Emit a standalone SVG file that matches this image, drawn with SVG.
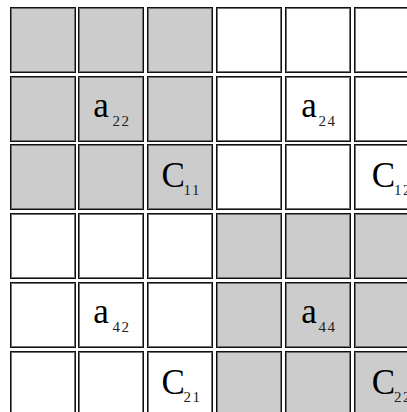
<svg xmlns="http://www.w3.org/2000/svg" width="407" height="412" viewBox="0 0 407 412">
<style>
.o{stroke:#111;stroke-width:1}
.i{fill:none;stroke:#707070;stroke-width:1}
.g{fill:#cccccc}
.w{fill:#ffffff}
.m{font-family:'Liberation Serif','Times New Roman',serif;font-size:35px;fill:#000}
.s{font-family:'Liberation Serif','Times New Roman',serif;font-size:15px;letter-spacing:1.5px;fill:#222}
</style>
<defs>
<g id="cellG"><rect class="o g" x="0.5" y="0.5" width="65" height="65"/><rect class="i" x="1.5" y="1.5" width="63" height="63"/></g>
<g id="cellW"><rect class="o w" x="0.5" y="0.5" width="65" height="65"/><rect class="i" x="1.5" y="1.5" width="63" height="63"/></g>
</defs>
<rect width="407" height="412" fill="#fff"/>
<!-- row 0 -->
<g id="r0c0"><use href="#cellG" x="10" y="7"/></g>
<g id="r0c1"><use href="#cellG" x="78" y="7"/></g>
<g id="r0c2"><use href="#cellG" x="147" y="7"/></g>
<g id="r0c3"><use href="#cellW" x="216" y="7"/></g>
<g id="r0c4"><use href="#cellW" x="285" y="7"/></g>
<g id="r0c5"><use href="#cellW" x="354" y="7"/></g>
<!-- row 1 -->
<g id="r1c0"><use href="#cellG" x="10" y="76"/></g>
<g id="r1c1"><use href="#cellG" x="78" y="76"/><text class="m" x="93.3" y="116.5">a</text><text class="s" x="112.6" y="125.8">22</text></g>
<g id="r1c2"><use href="#cellG" x="147" y="76"/></g>
<g id="r1c3"><use href="#cellW" x="216" y="76"/></g>
<g id="r1c4"><use href="#cellW" x="285" y="76"/><text class="m" x="301.3" y="116.5">a</text><text class="s" x="318.6" y="125.8">24</text></g>
<g id="r1c5"><use href="#cellW" x="354" y="76"/></g>
<!-- row 2 -->
<g id="r2c0"><use href="#cellG" x="10" y="144"/></g>
<g id="r2c1"><use href="#cellG" x="78" y="144"/></g>
<g id="r2c2"><use href="#cellG" x="147" y="144"/><text class="m" x="161.6" y="186.8">C</text><text class="s" x="183.5" y="195.3">11</text></g>
<g id="r2c3"><use href="#cellW" x="216" y="144"/></g>
<g id="r2c4"><use href="#cellW" x="285" y="144"/></g>
<g id="r2c5"><use href="#cellW" x="354" y="144"/><text class="m" x="371.7" y="186.8">C</text><text class="s" x="394" y="195.3">12</text></g>
<!-- row 3 -->
<g id="r3c0"><use href="#cellW" x="10" y="213"/></g>
<g id="r3c1"><use href="#cellW" x="78" y="213"/></g>
<g id="r3c2"><use href="#cellW" x="147" y="213"/></g>
<g id="r3c3"><use href="#cellG" x="216" y="213"/></g>
<g id="r3c4"><use href="#cellG" x="285" y="213"/></g>
<g id="r3c5"><use href="#cellG" x="354" y="213"/></g>
<!-- row 4 -->
<g id="r4c0"><use href="#cellW" x="10" y="282"/></g>
<g id="r4c1"><use href="#cellW" x="78" y="282"/><text class="m" x="93.3" y="322.5">a</text><text class="s" x="112.6" y="332">42</text></g>
<g id="r4c2"><use href="#cellW" x="147" y="282"/></g>
<g id="r4c3"><use href="#cellG" x="216" y="282"/></g>
<g id="r4c4"><use href="#cellG" x="285" y="282"/><text class="m" x="301.3" y="322.5">a</text><text class="s" x="318.6" y="332">44</text></g>
<g id="r4c5"><use href="#cellG" x="354" y="282"/></g>
<!-- row 5 -->
<g id="r5c0"><use href="#cellW" x="10" y="351"/></g>
<g id="r5c1"><use href="#cellW" x="78" y="351"/></g>
<g id="r5c2"><use href="#cellW" x="147" y="351"/><text class="m" x="161.6" y="393.8">C</text><text class="s" x="183.5" y="402.3">21</text></g>
<g id="r5c3"><use href="#cellG" x="216" y="351"/></g>
<g id="r5c4"><use href="#cellG" x="285" y="351"/></g>
<g id="r5c5"><use href="#cellG" x="354" y="351"/><text class="m" x="371.7" y="393.8">C</text><text class="s" x="394" y="402.3">22</text></g>
<g id="connectors"/>
</svg>
